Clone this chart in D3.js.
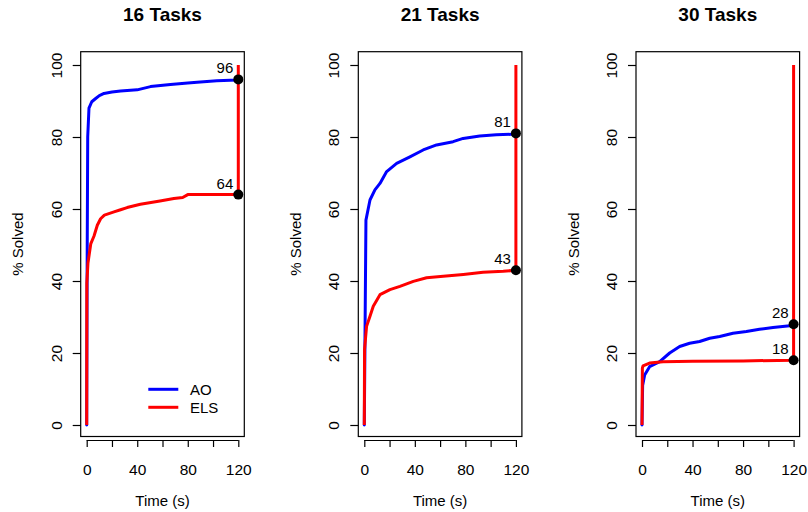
<!DOCTYPE html>
<html>
<head>
<meta charset="utf-8">
<script src="https://cdn.jsdelivr.net/npm/d3@7"></script>
<style>
  html, body { margin: 0; padding: 0; background: #fff; }
  svg { display: block; font-family: "Liberation Sans", Arial, Helvetica, sans-serif; }
</style>
</head>
<body>
<svg id="chart" width="808" height="512"></svg>
<script>
// ---------------- DATA ----------------
const panelTitles = ["16 Tasks", "21 Tasks", "30 Tasks"];
const seriesNames = ["AO", "ELS"];
const seriesColors = ["#0000FF", "#FF0000"];
const xTicks = [0, 20, 40, 60, 80, 100, 120];
const xTickLabels = ["0", "", "40", "", "80", "", "120"];
const yTicks = [0, 20, 40, 60, 80, 100];
const yTickLabels = ["0", "20", "40", "60", "80", "100"];
const xLabel = "Time (s)";
const yLabel = "% Solved";

// AO (blue) curves
const aoTime16 = [0, 0.3, 0.8, 1.8, 4, 7.1, 10, 13.7, 20, 26.8, 40, 50.5, 66.3, 80, 87.4, 103, 119, 120];
const aoPct16  = [0, 40, 80, 88, 89.8, 90.7, 91.5, 92.1, 92.5, 92.8, 93.1, 94, 94.6, 95, 95.2, 95.6, 95.8, 96];
const aoTime21 = [0, 0.5, 1.3, 4.5, 8.4, 12.4, 17.7, 25.6, 36.1, 46.6, 57.2, 70.3, 78.2, 91.4, 104.5, 119, 120];
const aoPct21  = [0, 22, 56.9, 62.5, 65.3, 67.1, 70.4, 72.7, 74.5, 76.4, 77.8, 78.7, 79.6, 80.3, 80.6, 80.8, 81];
const aoTime30 = [0, 0.5, 2.1, 6, 14, 21.9, 29.8, 37.7, 45.6, 53.6, 61.5, 72, 82.6, 93, 103.7, 117, 120];
const aoPct30  = [0, 11, 13.9, 16.2, 17.6, 20, 21.8, 22.7, 23.2, 24.1, 24.6, 25.5, 26, 26.6, 27.1, 27.6, 28];

// ELS (red) curves
const elsTime16 = [0, 0.1, 1, 3.2, 5.8, 8.4, 11, 14, 21.6, 26.8, 32, 42.5, 58, 69, 76, 80, 120, 120];
const elsPct16  = [0, 39.4, 45, 50.3, 52.5, 55.5, 57.3, 58.3, 59.2, 59.8, 60.4, 61.3, 62.2, 62.9, 63.2, 64, 64, 100];
const elsTime21 = [0, 0.2, 1.8, 4.5, 7.1, 12.4, 20.3, 28.2, 38.8, 49.3, 62.5, 78.4, 94, 110, 120, 120];
const elsPct21  = [0, 21, 27.4, 30.2, 33, 36.2, 37.6, 38.5, 39.9, 40.9, 41.3, 41.8, 42.4, 42.7, 43, 100];
const elsTime30 = [0, 0.3, 0.8, 6, 16.6, 40, 80, 120, 120];
const elsPct30  = [0, 15.8, 16.4, 17.2, 17.6, 17.7, 17.8, 18, 100];

const finalTime = 120;
const finalAO  = [96, 81, 28];
const finalELS = [64, 43, 18];

// ---------------- LAYOUT ----------------
const svg = d3.select("#chart");
const boxLefts = [80.7, 358.3, 636];
const boxW = 163.6;
const boxTop = 51.7, boxBottom = 436.5;
const xPad = 6.0;                 // gap between box edge and 0/120
const yTop = 65, yBottom = 425;   // pixel positions of 100 and 0
const axisY = 440;

const aoTimes = [aoTime16, aoTime21, aoTime30];
const aoPcts = [aoPct16, aoPct21, aoPct30];
const elsTimes = [elsTime16, elsTime21, elsTime30];
const elsPcts = [elsPct16, elsPct21, elsPct30];

panelTitles.forEach((title, i) => {
  const left = boxLefts[i];
  const right = left + boxW;
  const x = d3.scaleLinear().domain([0, 120]).range([left + xPad, right - xPad]);
  const y = d3.scaleLinear().domain([0, 100]).range([yBottom, yTop]);
  const g = svg.append("g");

  // box
  g.append("rect")
    .attr("x", left).attr("y", boxTop)
    .attr("width", boxW).attr("height", boxBottom - boxTop)
    .attr("fill", "none").attr("stroke", "#000").attr("stroke-width", 1.2);

  // x axis
  const xAxis = d3.axisBottom(x).tickValues(xTicks)
    .tickFormat((d, k) => xTickLabels[k]).tickSize(7).tickPadding(17);
  const gx = g.append("g").attr("transform", `translate(0,${axisY})`).call(xAxis);
  gx.select(".domain").attr("d", `M${x(0)},0.5H${x(120)}`).attr("stroke", "#000").attr("stroke-width", 1.2);
  gx.selectAll(".tick line").attr("stroke", "#000").attr("stroke-width", 1.2);
  gx.selectAll(".tick text").attr("font-size", 15.5).attr("fill", "#000")
    .attr("font-family", "Liberation Sans, Arial, sans-serif");

  // y axis
  const yAxis = d3.axisLeft(y).tickValues(yTicks)
    .tickFormat((d, k) => yTickLabels[k]).tickSize(8);
  const gy = g.append("g").attr("transform", `translate(${left},0)`).call(yAxis);
  gy.select(".domain").remove();
  gy.selectAll(".tick line").attr("stroke", "#000").attr("stroke-width", 1.2);
  gy.selectAll(".tick text")
    .attr("font-size", 15.5).attr("fill", "#000")
    .attr("font-family", "Liberation Sans, Arial, sans-serif")
    .attr("x", null).attr("dy", null)
    .attr("text-anchor", "middle")
    .attr("transform", "translate(-19,0) rotate(-90)");

  // axis titles
  g.append("text")
    .attr("x", (left + right) / 2).attr("y", 506)
    .attr("text-anchor", "middle").attr("font-size", 15)
    .text(xLabel);
  g.append("text")
    .attr("transform", `translate(${left - 57.5},${(boxTop + boxBottom) / 2}) rotate(-90)`)
    .attr("text-anchor", "middle").attr("font-size", 15)
    .text(yLabel);

  // panel title
  g.append("text")
    .attr("x", (left + right) / 2).attr("y", 20.7)
    .attr("text-anchor", "middle").attr("font-size", 19).attr("font-weight", "bold")
    .text(title);

  const line = d3.line().x(d => x(d[0])).y(d => y(d[1]));
  const ao = aoTimes[i].map((t, k) => [t, aoPcts[i][k]]);
  const els = elsTimes[i].map((t, k) => [t, elsPcts[i][k]]);

  g.append("path").datum(ao).attr("d", line)
    .attr("fill", "none").attr("stroke", seriesColors[0]).attr("stroke-width", 3)
    .attr("stroke-linejoin", "round").attr("stroke-linecap", "round");
  g.append("path").datum(els).attr("d", line)
    .attr("fill", "none").attr("stroke", seriesColors[1]).attr("stroke-width", 3)
    .attr("stroke-linejoin", "round").attr("stroke-linecap", "butt");

  // end points and labels
  [finalAO[i], finalELS[i]].forEach(v => {
    g.append("circle").attr("cx", x(finalTime)).attr("cy", y(v)).attr("r", 5).attr("fill", "#000");
    g.append("text").attr("x", x(finalTime) - 5).attr("y", y(v) - 6)
      .attr("text-anchor", "end").attr("font-size", 15).text(String(v));
  });

  // legend in first panel
  if (i === 0) {
    seriesNames.forEach((name, k) => {
      const ly = 389.3 + k * 18;
      g.append("line").attr("x1", 148.3).attr("x2", 178.3).attr("y1", ly).attr("y2", ly)
        .attr("stroke", seriesColors[k]).attr("stroke-width", 3);
      g.append("text").attr("x", 190).attr("y", ly).attr("dy", "0.35em")
        .attr("font-size", 15).text(name);
    });
  }
});
</script>
</body>
</html>
